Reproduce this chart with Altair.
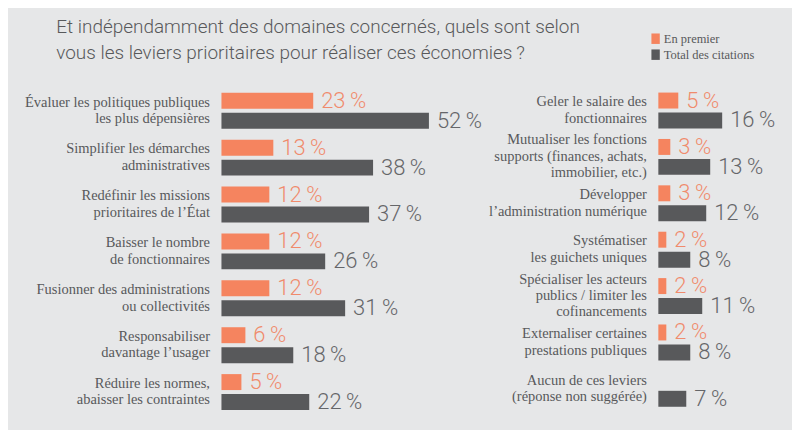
import altair as alt
import pandas as pd

title_lines = [
    "Et indépendamment des domaines concernés, quels sont selon",
    "vous les leviers prioritaires pour réaliser ces économies\u2009?",
]
series = ["En premier", "Total des citations"]
colors = ["#f5845f", "#58595b"]
text_colors = ["#f08b6c", "#656669"]

left_labels = [
    "Évaluer les politiques publiques|les plus dépensières",
    "Simplifier les démarches|administratives",
    "Redéfinir les missions|prioritaires de l’État",
    "Baisser le nombre|de fonctionnaires",
    "Fusionner des administrations|ou collectivités",
    "Responsabiliser|davantage l’usager",
    "Réduire les normes,|abaisser les contraintes",
]
left_first = [23, 13, 12, 12, 12, 6, 5]
left_total = [52, 38, 37, 26, 31, 18, 22]

right_labels = [
    "Geler le salaire des|fonctionnaires",
    "Mutualiser les fonctions|supports (finances, achats,|immobilier, etc.)",
    "Développer|l’administration numérique",
    "Systématiser|les guichets uniques",
    "Spécialiser les acteurs|publics / limiter les|cofinancements",
    "Externaliser certaines|prestations publiques",
    "Aucun de ces leviers|(réponse non suggérée)",
]
right_first = [5, 3, 3, 2, 2, 2, None]
right_total = [16, 13, 12, 8, 11, 8, 7]

LINE_H = 16.5


def build(labels, first, total):
    rows = []
    for i, (lab, f, t) in enumerate(zip(labels, first, total)):
        if f is not None:
            rows.append(dict(levier=lab, serie=series[0], valeur=f, ordre=i))
        rows.append(dict(levier=lab, serie=series[1], valeur=t, ordre=i))
    return pd.DataFrame(rows)


def panel(df, labels, xmax, width, step):
    p = (step - 36) / step
    y = alt.Y(
        "levier:N",
        sort=labels,
        scale=alt.Scale(paddingInner=p, paddingOuter=p / 2),
        axis=alt.Axis(
            title=None, domain=False, ticks=False, grid=False,
            labelExpr="split(datum.label, '|')",
            labelPadding=12, labelLimit=400,
            labelFont="Liberation Serif", labelFontSize=14.5,
            labelColor="#58595b", labelLineHeight=LINE_H,
            labelAlign="right", labelBaseline="middle",
            labelOffset={
                "condition": {
                    "test": "length(split(datum.label, '|')) >= 3",
                    "value": -LINE_H,
                },
                "value": -LINE_H / 2,
            },
        ),
    )
    yoff = alt.YOffset(
        "serie:N", sort=series,
        scale=alt.Scale(domain=series, paddingInner=0.2, paddingOuter=0),
    )
    x = alt.X("valeur:Q", scale=alt.Scale(domain=[0, xmax]), axis=None)
    base = alt.Chart(df).encode(y=y, yOffset=yoff, x=x)
    bars = base.mark_bar().encode(
        color=alt.Color(
            "serie:N",
            scale=alt.Scale(domain=series, range=colors),
            legend=alt.Legend(
                title=None, orient="none", legendX=429, legendY=-55,
                symbolType="M-0.8,-1H0.8V1H-0.8Z", symbolSize=110,
                symbolStrokeWidth=0,
                labelFont="Liberation Serif", labelFontSize=12.5,
                labelColor="#58595b", rowPadding=3, labelOffset=2,
            ),
        )
    )
    texts = base.mark_text(
        align="left", baseline="middle", dx=8,
        font="Roboto", fontSize=22, fontWeight=300,
    ).transform_calculate(
        etiquette="datum.valeur + '\u2009%'"
    ).encode(
        text="etiquette:N",
        color=alt.condition(
            alt.datum.serie == series[0],
            alt.value(text_colors[0]),
            alt.value(text_colors[1]),
        ),
    )
    return (bars + texts).properties(width=width, height=len(labels) * step)


left = panel(build(left_labels, left_first, left_total), left_labels, 65, 260, 47)
right = panel(build(right_labels, right_first, right_total), right_labels, 30, 120, 46.5)

chart = alt.hconcat(left, right, spacing=178, bounds="flush").resolve_scale(
    x="independent", y="independent", color="shared"
).properties(
    title=alt.TitleParams(
        text=title_lines, anchor="start", dx=32, offset=-31,
        font="Roboto", fontSize=19, fontWeight=300, color="#58595b",
        lineHeight=26,
    ),
    padding={"left": 16, "top": 10, "right": 14, "bottom": 14},
    background="#e6e7e8",
).configure_view(stroke=None)

chart.save("out.html", embed_options={"renderer": "svg", "actions": False})
